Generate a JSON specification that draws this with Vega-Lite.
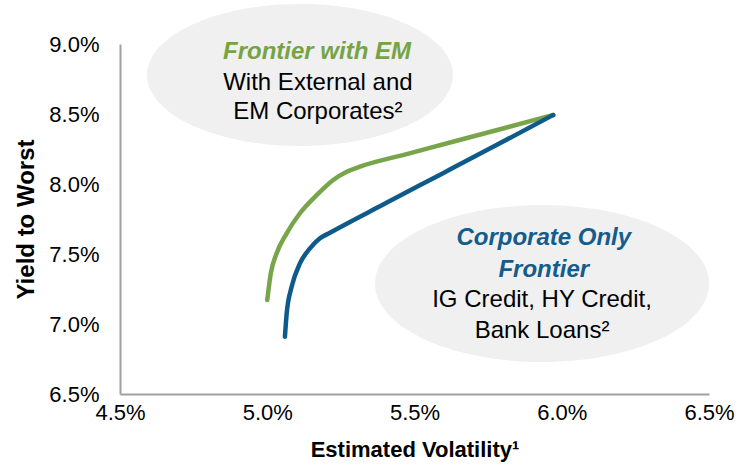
{
  "$schema": "https://vega.github.io/schema/vega-lite/v6.json",
  "width": 589,
  "height": 350,
  "autosize": {"type": "none"},
  "padding": {"left": 120, "top": 44, "right": 32, "bottom": 70},
  "background": "white",
  "config": {"view": {"stroke": null}, "font": "Liberation Sans"},
  "datasets": {
    "ellipses": [
      {"id": "em", "vol": 0.05111, "ytw": 0.08779},
      {"id": "corp", "vol": 0.05933, "ytw": 0.07289}
    ],
    "frontiers": [
      {"series": "Frontier with EM", "vol": 0.05000, "ytw": 0.07171},
      {"series": "Frontier with EM", "vol": 0.05012, "ytw": 0.07362},
      {"series": "Frontier with EM", "vol": 0.05032, "ytw": 0.07505},
      {"series": "Frontier with EM", "vol": 0.05066, "ytw": 0.07648},
      {"series": "Frontier with EM", "vol": 0.05111, "ytw": 0.07791},
      {"series": "Frontier with EM", "vol": 0.05168, "ytw": 0.07921},
      {"series": "Frontier with EM", "vol": 0.05224, "ytw": 0.08029},
      {"series": "Frontier with EM", "vol": 0.05270, "ytw": 0.08088},
      {"series": "Frontier with EM", "vol": 0.05315, "ytw": 0.08124},
      {"series": "Frontier with EM", "vol": 0.05480, "ytw": 0.08217},
      {"series": "Frontier with EM", "vol": 0.05643, "ytw": 0.08309},
      {"series": "Frontier with EM", "vol": 0.05810, "ytw": 0.08402},
      {"series": "Frontier with EM", "vol": 0.05971, "ytw": 0.08493},
      {"series": "Corporate Only", "vol": 0.05060, "ytw": 0.06909},
      {"series": "Corporate Only", "vol": 0.05066, "ytw": 0.07076},
      {"series": "Corporate Only", "vol": 0.05083, "ytw": 0.07267},
      {"series": "Corporate Only", "vol": 0.05111, "ytw": 0.07433},
      {"series": "Corporate Only", "vol": 0.05145, "ytw": 0.07540},
      {"series": "Corporate Only", "vol": 0.05179, "ytw": 0.07612},
      {"series": "Corporate Only", "vol": 0.05213, "ytw": 0.07652},
      {"series": "Corporate Only", "vol": 0.05400, "ytw": 0.07860},
      {"series": "Corporate Only", "vol": 0.05592, "ytw": 0.08072},
      {"series": "Corporate Only", "vol": 0.05780, "ytw": 0.08280},
      {"series": "Corporate Only", "vol": 0.05971, "ytw": 0.08493}
    ],
    "labels": [
      {"role": "heading", "group": "em", "text": "Frontier with EM", "vol": 0.05169, "ytw": 0.08943},
      {"role": "body", "group": "em", "text": "With External and", "vol": 0.05172, "ytw": 0.08718},
      {"role": "body", "group": "em", "text": "EM Corporates²", "vol": 0.05172, "ytw": 0.08514},
      {"role": "heading", "group": "corp", "text": "Corporate Only", "vol": 0.05939, "ytw": 0.07614},
      {"role": "heading", "group": "corp", "text": "Frontier", "vol": 0.05939, "ytw": 0.07386},
      {"role": "body", "group": "corp", "text": "IG Credit, HY Credit,", "vol": 0.05933, "ytw": 0.07168},
      {"role": "body", "group": "corp", "text": "Bank Loans²", "vol": 0.05933, "ytw": 0.06950}
    ]
  },
  "encoding": {
    "x": {
      "field": "vol", "type": "quantitative",
      "scale": {"domain": [0.045, 0.065], "nice": false, "zero": false},
      "axis": {
        "title": "Estimated Volatility¹",
        "values": [0.045, 0.05, 0.055, 0.06, 0.065],
        "format": ".1%",
        "grid": false, "ticks": false, "tickSize": 0, "labelFlush": false,
        "domainColor": "#A0A0A0", "domainWidth": 2,
        "labelFontSize": 22, "labelColor": "#000000", "labelPadding": 8,
        "labelFont": "Liberation Sans",
        "titleFont": "Liberation Sans", "titleFontSize": 22, "titleFontWeight": "bold",
        "titleColor": "#000000", "titlePadding": 16
      }
    },
    "y": {
      "field": "ytw", "type": "quantitative",
      "scale": {"domain": [0.065, 0.09], "nice": false, "zero": false},
      "axis": {
        "title": "Yield to Worst",
        "values": [0.065, 0.07, 0.075, 0.08, 0.085, 0.09],
        "format": ".1%",
        "grid": false, "ticks": false, "tickSize": 0, "labelFlush": false,
        "domainColor": "#A0A0A0", "domainWidth": 2,
        "labelFontSize": 22, "labelColor": "#000000", "labelPadding": 21,
        "labelFont": "Liberation Sans",
        "titleFont": "Liberation Sans", "titleFontSize": 24, "titleFontWeight": "bold",
        "titleColor": "#000000", "titlePadding": 10
      }
    }
  },
  "layer": [
    {
      "data": {"name": "ellipses"},
      "transform": [{"filter": "datum.id === 'em'"}],
      "mark": {
        "type": "point", "filled": true, "fill": "#F0F0F0", "opacity": 1, "strokeWidth": 0,
        "shape": "M-1,0A1,0.464,0,1,1,1,0A1,0.464,0,1,1,-1,0Z",
        "size": 93636
      }
    },
    {
      "data": {"name": "ellipses"},
      "transform": [{"filter": "datum.id === 'corp'"}],
      "mark": {
        "type": "point", "filled": true, "fill": "#F0F0F0", "opacity": 1, "strokeWidth": 0,
        "shape": "M-1,0A1,0.47,0,1,1,1,0A1,0.47,0,1,1,-1,0Z",
        "size": 111556
      }
    },
    {
      "data": {"name": "frontiers"},
      "mark": {"type": "line", "strokeWidth": 4.5, "strokeCap": "round", "strokeJoin": "round", "interpolate": "monotone"},
      "encoding": {
        "color": {
          "field": "series", "type": "nominal",
          "scale": {"domain": ["Frontier with EM", "Corporate Only"], "range": ["#78A54A", "#0E5A8A"]},
          "legend": null
        }
      }
    },
    {
      "data": {"name": "labels"},
      "transform": [{"filter": "datum.role === 'heading'"}],
      "mark": {"type": "text", "font": "Liberation Sans", "fontSize": 24, "fontWeight": "bold", "fontStyle": "italic", "align": "center", "baseline": "middle"},
      "encoding": {
        "text": {"field": "text"},
        "color": {
          "field": "group", "type": "nominal",
          "scale": {"domain": ["em", "corp"], "range": ["#76A344", "#135C8C"]},
          "legend": null
        }
      }
    },
    {
      "data": {"name": "labels"},
      "transform": [{"filter": "datum.role === 'body'"}],
      "mark": {"type": "text", "font": "Liberation Sans", "fontSize": 24, "color": "#000000", "align": "center", "baseline": "middle"},
      "encoding": {"text": {"field": "text"}}
    }
  ],
  "resolve": {"scale": {"color": "independent"}}
}
